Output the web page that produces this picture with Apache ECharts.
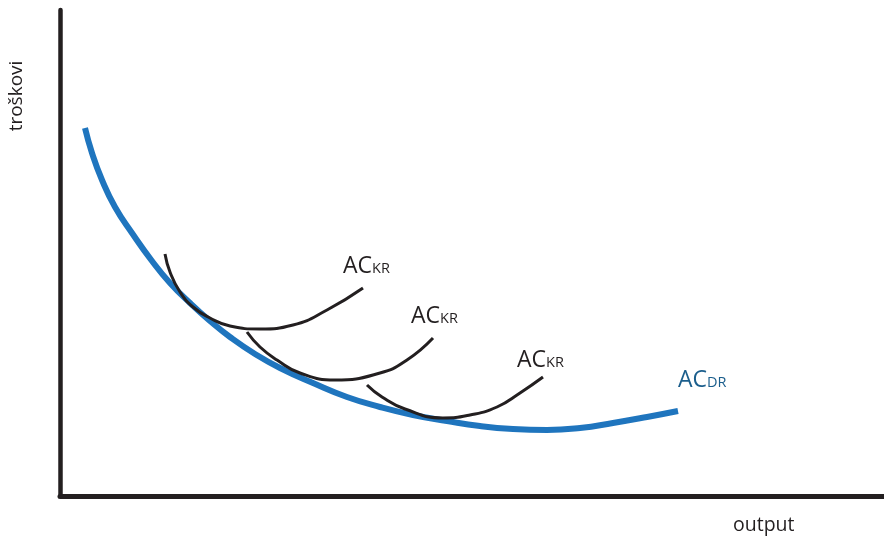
<!DOCTYPE html>
<html>
<head>
<meta charset="utf-8">
<script src="https://cdn.jsdelivr.net/npm/echarts@6/dist/echarts.min.js"></script>
<style>html,body{margin:0;padding:0;background:#fff;}#c{width:884px;height:537px;}</style>
</head>
<body>
<div id="c"></div>
<script>
// Long-run average cost curve (AC_DR): [output, cost]
const acDR = [[25,368],[32,343],[42,316],[55,289],[72,263],[92,235],[110,213],[130,193],[150,175],[170,159],[195,142],[220,128],[253,113],[287,99],[320,89],[353,81],[387,75],[420,70],[453,67],[487,66],[520,68],[553,73],[587,79],[618,85]];
// Short-run average cost curves (AC_KR)
const acKR1 = [[105,242],[110,224],[120,204],[133,189],[150,178],[170,170],[200,167],[233,171],[267,186],[303,208]];
const acKR2 = [[187,164],[200,149],[217,136],[240,123],[275,116],[320,123],[347,136],[373,158]];
const acKR3 = [[307,111],[322,99],[345,87],[383,78],[410,81],[437,89],[460,103],[483,119]];
// Curve labels: [x, y, main, subscript]
const labels = [[283,218,'AC','KR'],[351,168,'AC','KR'],[457,124,'AC','KR']];
const labelDR = [[618,104,'AC','DR']];
const xName = 'output';
const yName = 'troškovi';

const FONT = '"Open Sans", "Noto Sans", sans-serif';
const chart = echarts.init(document.getElementById('c'), null, {renderer:'canvas'});
function lbl(color){
  return {
    show:true, position:[0,0], align:'left', verticalAlign:'bottom', opacity:1,
    formatter:p=>'{a|'+p.data[2]+'}{b|'+p.data[3]+'}',
    rich:{
      a:{fontFamily:FONT,fontSize:23,color:color,lineHeight:26,verticalAlign:'bottom'},
      b:{fontFamily:FONT,fontSize:14.5,color:color,lineHeight:19,verticalAlign:'bottom',padding:[0,0,2,0]}
    }
  };
}
const srLine = {type:'line',smooth:0.5,symbol:'none',lineStyle:{color:'#231f20',width:3},z:3,silent:true};
chart.setOption({
  animation:false,
  grid:{left:60,right:0,top:10,bottom:41},
  xAxis:{type:'value',min:0,max:824,axisLine:{show:true,lineStyle:{color:'#231f20',width:5}},axisTick:{show:false},axisLabel:{show:false},splitLine:{show:false}},
  yAxis:{type:'value',min:0,max:486,axisLine:{show:true,lineStyle:{color:'#231f20',width:4.5}},axisTick:{show:false},axisLabel:{show:false},splitLine:{show:false}},
  graphic:[
    {type:'text',left:733,top:515,style:{text:xName,font:'19.5px '+FONT,fill:'#231f20'}},
    {type:'text',x:7,y:96,rotation:Math.PI/2,style:{text:yName,font:'19px '+FONT,fill:'#231f20',align:'center',verticalAlign:'top'}}
  ],
  series:[
    Object.assign({},srLine,{data:acKR1}),
    Object.assign({},srLine,{data:acKR2}),
    Object.assign({},srLine,{data:acKR3}),
    {type:'line',smooth:0.5,symbol:'none',data:acDR,lineStyle:{color:'#1f75be',width:6},z:2,silent:true},
    {type:'scatter',data:labels,symbolSize:0,itemStyle:{opacity:1},label:lbl('#231f20'),z:5,silent:true},
    {type:'scatter',data:labelDR,symbolSize:0,itemStyle:{opacity:1},label:lbl('#1b5e8c'),z:5,silent:true}
  ]
});
</script>
</body>
</html>
